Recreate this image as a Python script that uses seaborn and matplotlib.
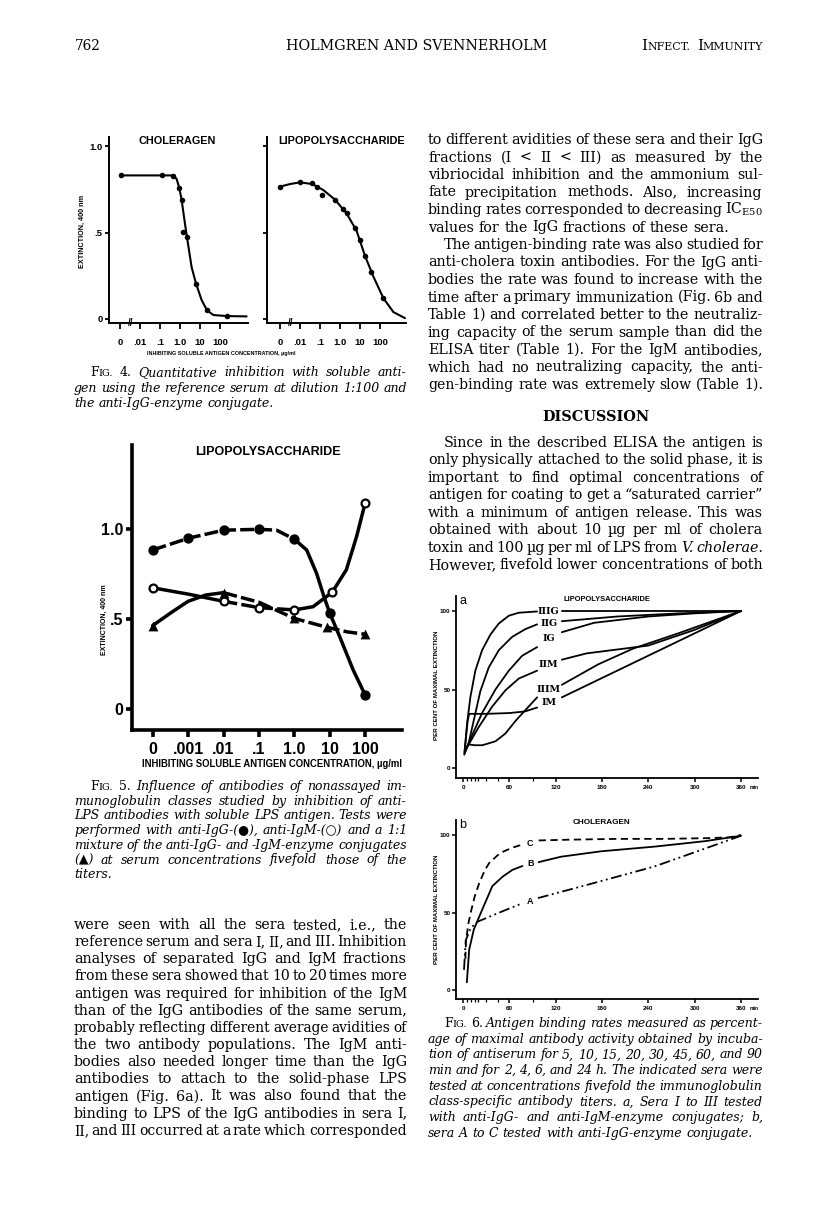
import matplotlib
matplotlib.use("Agg")
import matplotlib.pyplot as plt
import seaborn as sns
from matplotlib import font_manager

sns.set_style("ticks", {"axes.edgecolor": "black", "xtick.color": "black",
                        "ytick.color": "black", "text.color": "black"})
plt.rcParams["mathtext.fontset"] = "dejavuserif"

# ---------------- values ----------------
# Fig. 4: x in decades of concentration, the "0" sample sits at -3
fig4_ticks = [-3, -2, -1, 0, 1, 2]
fig4_ticklabels = ["0", ".01", ".1", "1.0", "10", "100"]
chol_x = [-2.95, -0.88, -0.33, -0.03, 0.08, 0.13, 0.33, 0.8, 1.35, 2.33]
chol_y = [0.83, 0.83, 0.825, 0.755, 0.69, 0.505, 0.475, 0.205, 0.05, 0.015]
chol_curve_x = [-2.95, -0.35, -0.17, -0.03, 0.08, 0.2, 0.3, 0.42, 0.58, 0.8, 1.08, 1.35, 1.67, 2.33, 3.33]
chol_curve_y = [0.83, 0.83, 0.81, 0.755, 0.69, 0.59, 0.51, 0.42, 0.3, 0.205, 0.11, 0.05, 0.023, 0.017, 0.015]
lps4_x = [-3.0, -2.0, -1.38, -1.13, -0.88, -0.25, 0.15, 0.33, 0.73, 1.0, 1.25, 1.53, 2.17]
lps4_y = [0.765, 0.79, 0.785, 0.765, 0.715, 0.69, 0.635, 0.61, 0.525, 0.455, 0.365, 0.27, 0.12]
lps4_curve_x = [-3.0, -2.5, -2.0, -1.38, -0.83, -0.25, 0.33, 0.83, 1.25, 1.67, 2.17, 2.67, 3.25]
lps4_curve_y = [0.765, 0.78, 0.79, 0.78, 0.745, 0.69, 0.61, 0.51, 0.365, 0.245, 0.12, 0.04, 0.005]

# Fig. 5: x is the position of the concentration label
fig5_labels = ["0", ".001", ".01", ".1", "1.0", "10", "100"]
igg_x = [0, 1, 2, 3, 4, 5, 6]
igg_y = [0.885, 0.95, 0.995, 1.0, 0.945, 0.535, 0.08]
igg_curve_x = [0, 1, 2, 3, 3.5, 4, 4.35, 4.63, 4.84, 5, 5.29, 5.66, 6]
igg_curve_y = [0.885, 0.95, 0.995, 1.0, 0.995, 0.945, 0.885, 0.755, 0.625, 0.535, 0.4, 0.22, 0.08]
igm_x = [0, 2, 3, 4, 5.07, 6]
igm_y = [0.675, 0.6, 0.565, 0.552, 0.65, 1.145]
igm_curve_x = [0, 1, 2, 3, 4, 4.53, 5.07, 5.47, 5.76, 6]
igm_curve_y = [0.675, 0.64, 0.6, 0.565, 0.552, 0.57, 0.65, 0.775, 0.96, 1.145]
mix_x = [0, 2, 4, 4.93, 6]
mix_y = [0.465, 0.648, 0.505, 0.455, 0.417]
mix_curve_x = [0, 0.49, 1, 1.5, 2, 3, 4, 4.93, 5.5, 6]
mix_curve_y = [0.465, 0.533, 0.6, 0.635, 0.648, 0.595, 0.505, 0.455, 0.43, 0.417]

# Fig. 6: minutes vs per cent of maximal extinction
# each serum: left piece (t, %), right piece (t, %), height of its label
minute_ticks = [0, 60, 120, 180, 240, 300, 360]
minute_minor = [5, 10, 15, 20, 30, 45, 90]
pct_ticks = [0, 50, 100]
lps6 = {
    "IIIG": ([1.7, 5.2, 9.5, 16, 24.7, 35.5, 46.3, 59.3, 72.3, 96], [8.5, 28, 45, 62, 75, 85, 92, 97, 98.9, 99.7],
             [128, 360], [100, 100], 99.8),
    "IIG": ([2, 7.4, 13.8, 22.5, 33.3, 46.3, 63.6, 80.9, 96], [9, 16, 30, 49, 64, 75, 83.5, 88.5, 91.5],
            [128, 200, 280, 360], [93.5, 96.5, 98.5, 100], 92),
    "IG": ([2.5, 7.4, 24.7, 42, 59.3, 76.6, 96], [10, 16, 35, 50, 62, 71.5, 77],
           [128, 170, 240, 300, 360], [86.5, 92.5, 96.5, 98.5, 100], 82.5),
    "IIM": ([3, 7.4, 20.3, 37.6, 55, 72.3, 96], [11, 15, 26, 39, 49.5, 57, 62],
            [128, 160, 200, 240, 300, 360], [69, 73, 75.5, 78, 88, 100], 66),
    "IIIM": ([4, 8, 15, 25, 42, 55, 68, 81, 96], [13, 15, 14.5, 14.5, 17, 22, 30, 37, 45],
             [128, 175, 220, 280, 360], [53, 66, 76, 86, 100], 49.7),
    "IM": ([2, 6, 8, 30, 60, 80, 96], [10, 30, 34.5, 34.5, 35, 36, 38.5],
           [128, 360], [45, 100], 41.6),
}
chol6 = {
    "C": ([3, 4, 7, 10, 15, 21, 28, 34, 45, 53, 65, 78], [20, 32, 43, 50, 60, 69, 77, 82, 87, 89.5, 92, 94],
          [98, 140, 200, 260, 320, 345, 360], [96.5, 97, 97.5, 97.5, 98, 98.5, 100], 94.4),
    "B": ([5, 6, 8, 14, 25, 38, 51, 64, 77], [5, 12, 26, 39, 52, 67, 73, 77.5, 80],
          [98, 127, 179, 248, 313, 360], [82.5, 86, 89.5, 92.5, 96, 99.5], 81.5),
    "A": ([1.3, 3.5, 10, 18.6, 40, 62, 77], [13, 32, 40, 44, 48.5, 53, 56],
          [97, 162, 248, 360], [59.3, 68, 79.7, 99.5], 57),
}

# ---------------- page text ----------------
left_body = [
    "were seen with all the sera tested, i.e., the",
    "reference serum and sera I, II, and III. Inhibition",
    "analyses of separated IgG and IgM fractions",
    "from these sera showed that 10 to 20 times more",
    "antigen was required for inhibition of the IgM",
    "than of the IgG antibodies of the same serum,",
    "probably reflecting different average avidities of",
    "the two antibody populations. The IgM anti-",
    "bodies also needed longer time than the IgG",
    "antibodies to attach to the solid-phase LPS",
    "antigen (Fig. 6a). It was also found that the",
    "binding to LPS of the IgG antibodies in sera I,",
    "II, and III occurred at a rate which corresponded",
]
right_body = [
    "to different avidities of these sera and their IgG",
    "fractions (I < II < III) as measured by the",
    "vibriocidal inhibition and the ammonium sul-",
    "fate precipitation methods. Also, increasing",
    "binding rates corresponded to decreasing IC$_{\\mathrm{E50}}$",
    "values for the IgG fractions of these sera.",
    "The antigen-binding rate was also studied for",
    "anti-cholera toxin antibodies. For the IgG anti-",
    "bodies the rate was found to increase with the",
    "time after a primary immunization (Fig. 6b and",
    "Table 1) and correlated better to the neutraliz-",
    "ing capacity of the serum sample than did the",
    "ELISA titer (Table 1). For the IgM antibodies,",
    "which had no neutralizing capacity, the anti-",
    "gen-binding rate was extremely slow (Table 1).",
]
discussion = [
    "Since in the described ELISA the antigen is",
    "only physically attached to the solid phase, it is",
    "important to find optimal concentrations of",
    "antigen for coating to get a \u201csaturated carrier\u201d",
    "with a minimum of antigen release. This was",
    "obtained with about 10 \u00b5g per ml of cholera",
    "toxin and 100 \u00b5g per ml of LPS from *V.* *cholerae.*",
    "However, fivefold lower concentrations of both",
]
fig4_caption = [
    "FIG. ^4. Quantitative inhibition with soluble anti-",
    "gen using the reference serum at dilution 1:100 and",
    "the anti-IgG-enzyme conjugate.",
]
fig5_caption = [
    "FIG. ^5. Influence of antibodies of nonassayed im-",
    "munoglobulin classes studied by inhibition of anti-",
    "LPS antibodies with soluble LPS antigen. Tests were",
    "performed with anti-IgG-(\u25cf), anti-IgM-(\u25cb) and a 1:1",
    "mixture of the anti-IgG- and -IgM-enzyme conjugates",
    "(\u25b2) at serum concentrations fivefold those of the",
    "titers.",
]
fig6_caption = [
    "FIG. ^6. Antigen binding rates measured as percent-",
    "age of maximal antibody activity obtained by incuba-",
    "tion of antiserum for 5, 10, 15, 20, 30, 45, 60, and 90",
    "min and for 2, 4, 6, and 24 h. The indicated sera were",
    "tested at concentrations fivefold the immunoglobulin",
    "class-specific antibody titers. a, Sera I to III tested",
    "with anti-IgG- and anti-IgM-enzyme conjugates; b,",
    "sera A to C tested with anti-IgG-enzyme conjugate.",
]
xlabel_text = "INHIBITING SOLUBLE ANTIGEN CONCENTRATION, \u00b5g/ml"


def have(name):
    try:
        font_manager.findfont(font_manager.FontProperties(family=name), fallback_to_default=False)
        return True
    except ValueError:
        return False


SERIF = ["DejaVu Serif", "DejaVu Sans"]
SANS = "Liberation Sans"
NARROW = "Liberation Sans Narrow" if have("Liberation Sans Narrow") else "Liberation Sans"
REF = 10.0

W, H = 816, 1230
fig = plt.figure(figsize=(W / 100, H / 100), dpi=100)
fig.patch.set_facecolor("white")
R = fig.canvas.get_renderer()
probe = fig.text(0, 0, "")


def fx(x):
    return x / W


def fy(y):
    return 1 - y / H


def measure(s, size, style="normal", weight="normal", family=SERIF):
    probe.set_text(s)
    probe.set_fontsize(size)
    probe.set_style(style)
    probe.set_weight(weight)
    probe.set_family(family)
    return probe.get_window_extent(R).width


def fit_text(x, y, s, width, family=NARROW, weight="bold", rotation=0, ha="center", va="center", style="normal"):
    size = REF * width / measure(s, REF, style, weight, family)
    fig.text(fx(x), fy(y), s, fontsize=size, family=family, weight=weight, style=style,
             rotation=rotation, ha=ha, va=va)


# justified column text
def runs_for(word, base):
    if word == "FIG.":
        return [("F", 1.0, "normal"), ("IG.", 0.78, "normal")]
    if word.startswith("^"):
        return [(word[1:], 1.0, "normal")]
    if len(word) > 2 and word.startswith("*") and word.endswith("*"):
        return [(word[1:-1], 1.0, "normal" if base == "italic" else "italic")]
    return [(word, 1.0, base)]


def plan(lines, x0, x1, base="normal", indent=(), last=()):
    rows = []
    for i, line in enumerate(lines):
        left = x0 + (16 if i in indent else 0)
        words = [[(s, rel, st, measure(s, REF * rel, st)) for s, rel, st in runs_for(w, base)]
                 for w in line.split()]
        rows.append((left, words, i not in last))
    return {"x1": x1, "base": base, "rows": rows}


def space_of(base):
    return measure("a a", REF, base) - measure("aa", REF, base)


def pick_size(plans):
    rs = []
    for p in plans:
        sp = space_of(p["base"])
        for left, words, just in p["rows"]:
            if just:
                nat = sum(r[3] for ws in words for r in ws) + sp * (len(words) - 1)
                rs.append(nat / (p["x1"] - left))
    rs.sort()
    return REF / rs[len(rs) // 2]


def render(p, y0, step, size):
    sp0 = space_of(p["base"])
    for i, (left, words, just) in enumerate(p["rows"]):
        k = size / REF
        avail = p["x1"] - left
        raw = sum(r[3] for ws in words for r in ws)
        n = len(words)
        if just and n > 1:
            gap = (avail - raw * k) / (n - 1)
            if gap < 0.55 * sp0 * k:
                # too tight: shrink this one line a little
                k = avail / (raw + 0.55 * sp0 * (n - 1))
                gap = 0.55 * sp0 * k
        else:
            gap = sp0 * k
            if (raw + sp0 * (n - 1)) * k > avail:
                k = avail / (raw + sp0 * (n - 1))
                gap = sp0 * k
        x, y = left, y0 + i * step + 4
        for ws in words:
            off = 0.0
            for s, rel, st, w in ws:
                fig.text(fx(x + off), fy(y), s, fontsize=REF * k * rel, style=st, family=SERIF, va="baseline")
                off += w * k
            x += off + gap


def axes_box(left, right, top, bottom):
    return fig.add_axes([left / W, 1 - bottom / H, (right - left) / W, (bottom - top) / H])


def span(lo, hi, v1, p1, v2, p2):
    k = (v2 - v1) / (p2 - p1)
    return v1 + (lo - p1) * k, v1 + (hi - p1) * k


def seg(xs, ys, lo, hi):
    pts = [(a, b) for a, b in zip(xs, ys) if lo <= a <= hi]
    return [p[0] for p in pts], [p[1] for p in pts]


def style_axes(ax, lw):
    sns.despine(ax=ax)
    ax.set_facecolor("none")
    for s in ("left", "bottom"):
        ax.spines[s].set_linewidth(lw)
    ax.set_xlabel("")
    ax.set_ylabel("")


# ---------------- header ----------------
fit_text(75, 50, "762", 26, family=SERIF, weight="normal", ha="left", va="baseline")
fit_text(417, 50, "HOLMGREN AND SVENNERHOLM", 261, family=SERIF, weight="normal", va="baseline")
hdr = [("I", 1.0), ("NFECT.", 0.74), (None, 0), ("I", 1.0), ("MMUNITY", 0.74)]
hw = sum(measure(s, REF * r) for s, r in hdr if s)
hsize = REF * (122 - 7) / hw
hx = 763 - 122
for s, r in hdr:
    if s is None:
        hx += 7
        continue
    fig.text(fx(hx), fy(50), s, fontsize=hsize * r, family=SERIF, va="baseline")
    hx += measure(s, hsize * r)

# ---------------- Fig. 4 ----------------
for k, (left, right, zero_px, title, title_x, title_w, px, py, cx, cy) in enumerate([
        (109, 248, 120, "CHOLERAGEN", 177, 77, chol_x, chol_y, chol_curve_x, chol_curve_y),
        (267, 406, 280, "LIPOPOLYSACCHARIDE", 342, 126, lps4_x, lps4_y, lps4_curve_x, lps4_curve_y)]):
    ax = axes_box(left, right, 137, 323)
    sns.lineplot(x=cx, y=cy, ax=ax, color="black", linewidth=1.5, sort=False, estimator=None)
    sns.scatterplot(x=px, y=py, ax=ax, color="black", s=16, linewidth=0, zorder=3)
    ax.set_xlim(span(left, right, -3, zero_px, -2, zero_px + 20))
    ax.set_ylim(span(323, 137, 0, 319, 1, 146))
    style_axes(ax, 1.4)
    ax.set_xticks(fig4_ticks, fig4_ticklabels, fontsize=6.8, fontweight="bold", family=SANS)
    if k == 0:
        ax.set_yticks([0, 0.5, 1.0], ["0", ".5", "1.0"], fontsize=6.8, fontweight="bold", family=SANS)
    else:
        ax.set_yticks([0, 0.5, 1.0], ["", "", ""])
    ax.tick_params(axis="x", direction="out", length=4, width=1.3, pad=6.5)
    ax.tick_params(axis="y", direction="out", length=3, width=1.3, pad=1.5)
    ax.annotate("//", xy=(-2.45, 0), xycoords=("data", "axes fraction"), ha="center", va="center",
                fontsize=7, fontweight="bold", family=SANS, annotation_clip=False)
    fit_text(title_x, 141, title, title_w)
fit_text(82, 231, "EXTINCTION, 400 nm", 73, rotation=90)
fit_text(221, 354, xlabel_text, 148)

# ---------------- Fig. 5 ----------------
ax5 = axes_box(132, 402, 445, 730)
for xs, ys, lo, hi, ls in [(igg_curve_x, igg_curve_y, 0, 4, (0, (4, 1.2))),
                           (igg_curve_x, igg_curve_y, 4, 6, "-"),
                           (igm_curve_x, igm_curve_y, 0, 2, "-"),
                           (igm_curve_x, igm_curve_y, 2, 4, (0, (4, 1.2))),
                           (igm_curve_x, igm_curve_y, 4, 6, "-"),
                           (mix_curve_x, mix_curve_y, 0, 2, "-"),
                           (mix_curve_x, mix_curve_y, 2, 6, (0, (4, 1.2)))]:
    sx, sy = seg(xs, ys, lo, hi)
    sns.lineplot(x=sx, y=sy, ax=ax5, color="black", linewidth=2.5, linestyle=ls, sort=False, estimator=None)
sns.scatterplot(x=igg_x, y=igg_y, ax=ax5, color="black", s=55, linewidth=0, zorder=3)
sns.scatterplot(x=igm_x, y=igm_y, ax=ax5, color="white", edgecolor="black", s=32, linewidth=1.6, zorder=3)
sns.scatterplot(x=mix_x, y=mix_y, ax=ax5, color="black", marker="^", s=50, linewidth=0, zorder=3)
ax5.set_xlim(span(132, 402, 0, 152.7, 1, 188.1))
ax5.set_ylim(span(730, 445, 0, 709.3, 1, 529.3))
style_axes(ax5, 2.6)
ax5.set_xticks(range(len(fig5_labels)), fig5_labels, fontsize=11.5, fontweight="bold", family=SANS)
ax5.set_yticks([0, 0.5, 1.0], ["0", ".5", "1.0"], fontsize=11.5, fontweight="bold", family=SANS)
ax5.tick_params(axis="x", direction="out", length=5, width=2.6, pad=4)
ax5.tick_params(axis="y", direction="out", length=4, width=2.6, pad=2)
fit_text(267.5, 452, "LIPOPOLYSACCHARIDE", 145)
fit_text(104, 620, "EXTINCTION, 400 nm", 70, rotation=90)
fit_text(272, 764, xlabel_text, 260)

# ---------------- Fig. 6 ----------------
panels = [(596, 778, 768, 611, lps6, "LIPOPOLYSACCHARIDE", 607, 599, 87, "a", 685),
          (820, 999, 990, 835, chol6, "CHOLERAGEN", 601, 823, 58, "b", 909)]
for top, bottom, p0, p100, curves, title, tx, ty, tw, letter, ylab_y in panels:
    ax = axes_box(456, 758, top, bottom)
    for name, (lt, lp, rt, rp, ly) in curves.items():
        if name == "C":
            ls = (0, (4, 2.5))
        elif name == "A":
            ls = (0, (6, 2, 1, 2, 1, 2))
        else:
            ls = "-"
        for xs, ys in [(lt, lp), (rt, rp)]:
            sns.lineplot(x=xs, y=ys, ax=ax, color="black", linewidth=1.3, linestyle=ls, sort=False, estimator=None)
        if curves is lps6:
            ax.text(111, ly, name, ha="center", va="center", fontsize=6.8, fontweight="bold", family=SERIF)
        else:
            ax.text(87, ly, name, ha="center", va="center", fontsize=6.5, fontweight="bold", family=SANS)
    ax.set_xlim(span(456, 758, 0, 463, 360, 741))
    ax.set_ylim(span(bottom, top, 0, p0, 100, p100))
    style_axes(ax, 1.3)
    ax.set_xticks(minute_ticks, [str(m) for m in minute_ticks], fontsize=4.5, fontweight="bold", family=SANS)
    ax.set_xticks(minute_minor, minor=True)
    ax.set_yticks(pct_ticks, [str(v) for v in pct_ticks], fontsize=4.5, fontweight="bold", family=SANS)
    ax.tick_params(axis="x", which="major", direction="out", length=3, width=1.1, pad=2)
    ax.tick_params(axis="x", which="minor", direction="out", length=2.5, width=0.9)
    ax.tick_params(axis="y", direction="out", length=3, width=1.1, pad=1)
    ax.annotate("min", xy=(360, 0), xycoords=("data", "axes fraction"), xytext=(6, -6.8),
                textcoords="offset points", ha="left", va="center", fontsize=3.6, fontweight="bold",
                family=SANS, annotation_clip=False)
    fit_text(tx, ty, title, tw)
    fig.text(fx(459), fy(ty + 5), letter, fontsize=9, family=SANS, va="baseline")
    fit_text(436, ylab_y, "PER CENT OF MAXIMAL EXTINCTION", 110, rotation=90)

# ---------------- column text ----------------
p_left = plan(left_body, 74, 407)
p_right = plan(right_body, 428, 763, indent=(6,), last=(5, 14))
p_disc = plan(discussion, 428, 763, indent=(0,))
body_size = pick_size([p_left, p_right, p_disc])
render(p_left, 925, 17.15, body_size)
render(p_right, 140, 17.5, body_size)
render(p_disc, 443, 17.45, body_size)
fit_text(595.5, 417, "DISCUSSION", 108, family=SERIF, weight="bold")

p_c4 = plan(fig4_caption, 74, 407, base="italic", indent=(0,), last=(2,))
p_c5 = plan(fig5_caption, 74, 407, base="italic", indent=(0,), last=(6,))
p_c6 = plan(fig6_caption, 428, 763, base="italic", indent=(0,), last=(7,))
cap_size = pick_size([p_c4, p_c5, p_c6])
render(p_c4, 372, 15.5, cap_size)
render(p_c5, 786, 14.7, cap_size)
render(p_c6, 1023, 15.7, cap_size)

probe.remove()
fig.savefig("out.png", dpi=100, facecolor="white")
